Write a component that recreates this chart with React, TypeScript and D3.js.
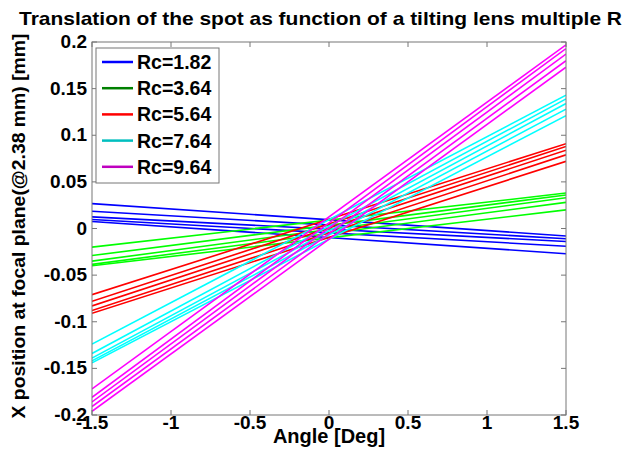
import * as d3 from 'd3'

const xEnds = [-1.5, 1.5]
const seriesLabels = ['Rc=1.82', 'Rc=3.64', 'Rc=5.64', 'Rc=7.64', 'Rc=9.64']
const lineColors = ['#0000ff', '#00ff00', '#ff0000', '#00ffff', '#ff00ff']
const legendColors = ['#0000ff', '#008000', '#ff0000', '#00bfbf', '#bf00bf']

// value of each of the 5 lines at x = -1.5 and x = 1.5
const rc182Left = [0.0267, 0.0185, 0.0125, 0.0096, 0.0075]
const rc182Right = [-0.027, -0.019, -0.014, -0.011, -0.008]
const rc364Left = [-0.02, -0.029, -0.035, -0.0385, -0.04]
const rc364Right = [0.02, 0.028, 0.033, 0.036, 0.038]
const rc564Left = [-0.071, -0.078, -0.083, -0.088, -0.091]
const rc564Right = [0.072, 0.079, 0.084, 0.088, 0.091]
const rc764Left = [-0.124, -0.134, -0.139, -0.142, -0.144]
const rc764Right = [0.121, 0.128, 0.134, 0.139, 0.143]
const rc964Left = [-0.172, -0.181, -0.186, -0.191, -0.196]
const rc964Right = [0.173, 0.18, 0.187, 0.193, 0.197]

const xTicks = [-1.5, -1, -0.5, 0, 0.5, 1, 1.5]
const yTicks = [-0.2, -0.15, -0.1, -0.05, 0, 0.05, 0.1, 0.15, 0.2]

const W = 624
const H = 466
const left = 92
const right = 566
const top = 42
const bottom = 415
const font = '"Liberation Sans", Arial, sans-serif'

export default function App() {
  const x = d3.scaleLinear().domain([-1.5, 1.5]).range([left, right])
  const y = d3.scaleLinear().domain([-0.2, 0.2]).range([bottom, top])
  const line = d3
    .line<[number, number]>()
    .x(d => x(d[0]))
    .y(d => y(d[1]))

  const groups = [
    [rc182Left, rc182Right],
    [rc364Left, rc364Right],
    [rc564Left, rc564Right],
    [rc764Left, rc764Right],
    [rc964Left, rc964Right],
  ]

  const axisColor = '#777'
  const tick = 5
  const fmt = (t: number) => d3.format('')(t).replace('−', '-')

  return (
    <svg
      width={W}
      height={H}
      style={{ position: 'absolute', left: 0, top: 0, background: '#fff' }}
      fontFamily={font}
      fontWeight="bold"
    >
      <rect width={W} height={H} fill="#fff" />
      <defs>
        <clipPath id="plot">
          <rect x={left} y={top} width={right - left} height={bottom - top} />
        </clipPath>
      </defs>

      {/* lines */}
      <g clipPath="url(#plot)" fill="none" strokeWidth={1.6}>
        {groups.map((g, si) =>
          g[0].map((lv, i) => (
            <path
              key={si + '-' + i}
              d={line([[xEnds[0], lv], [xEnds[1], g[1][g[1].length - 1 - i]]]) || ''}
              stroke={lineColors[si]}
            />
          ))
        )}
      </g>

      {/* axes box + ticks */}
      <rect x={left} y={top} width={right - left} height={bottom - top} fill="none" stroke={axisColor} />
      <g stroke={axisColor}>
        {xTicks.map(t => (
          <g key={'x' + t}>
            <line x1={x(t)} x2={x(t)} y1={bottom} y2={bottom - tick} />
            <line x1={x(t)} x2={x(t)} y1={top} y2={top + tick} />
          </g>
        ))}
        {yTicks.map(t => (
          <g key={'y' + t}>
            <line x1={left} x2={left + tick} y1={y(t)} y2={y(t)} />
            <line x1={right} x2={right - tick} y1={y(t)} y2={y(t)} />
          </g>
        ))}
      </g>

      {/* tick labels */}
      <g fontSize={19} fill="#000">
        {xTicks.map(t => (
          <text key={'xl' + t} x={x(t)} y={429} textAnchor="middle">
            {fmt(t)}
          </text>
        ))}
        {yTicks.map(t => (
          <text key={'yl' + t} x={87} y={y(t) + 6} textAnchor="end">
            {fmt(t)}
          </text>
        ))}
      </g>

      {/* legend */}
      <g>
        <rect x={96} y={48} width={123} height={135} fill="#fff" stroke={axisColor} />
        {seriesLabels.map((s, i) => {
          const ly = 62 + i * 26.2
          return (
            <g key={s}>
              <line x1={102} x2={133} y1={ly} y2={ly} stroke={legendColors[i]} strokeWidth={2.5} />
              <text x={137} y={ly + 7} fontSize={19.5} fill="#000">
                {s}
              </text>
            </g>
          )
        })}
      </g>

      {/* labels */}
      <text x={19} y={25} fontSize={19} textLength={603} lengthAdjust="spacingAndGlyphs">
        Translation of the spot as function of a tilting lens multiple R
      </text>
      <text x={329} y={443} fontSize={20} textAnchor="middle">
        Angle [Deg]
      </text>
      <text
        transform={`translate(25, 226) rotate(-90)`}
        fontSize={18}
        textAnchor="middle"
        textLength={385}
        lengthAdjust="spacingAndGlyphs"
      >
        X position at focal plane(@2.38 mm) [mm]
      </text>
    </svg>
  )
}
